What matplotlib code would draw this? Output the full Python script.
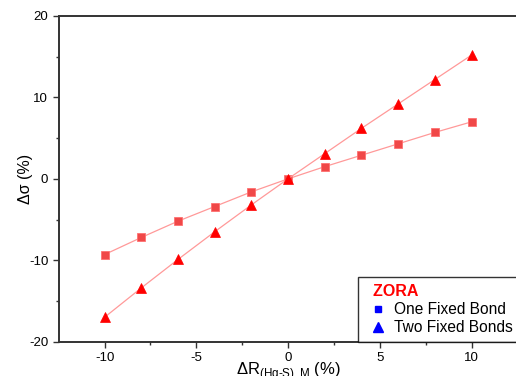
import matplotlib.pyplot as plt
from matplotlib.lines import Line2D

plt.rcParams['font.family'] = ['Liberation Sans', 'DejaVu Sans']
plt.rcParams['mathtext.fontset'] = 'custom'
plt.rcParams['mathtext.rm'] = 'Liberation Sans'

# ΔR (%)
dR = [-10, -8, -6, -4, -2, 0, 2, 4, 6, 8, 10]
# Δσ (%)
one_bond = [-9.3, -7.2, -5.2, -3.4, -1.6, 0.0, 1.5, 2.9, 4.3, 5.7, 7.0]
two_bonds = [-17.0, -13.4, -9.9, -6.5, -3.2, 0.0, 3.1, 6.2, 9.2, 12.2, 15.2]

fig = plt.figure(figsize=(5.16, 3.76), dpi=100)
ax = fig.add_axes([58.7/516, 34.3/376, 458.7/516, 325.7/376])

ax.plot(dR, one_bond, color='#ff9999', lw=0.9, marker='s', ms=5.5,
        mfc='#f04848', mec='#ff7070', mew=0.6, zorder=3)
ax.plot(dR, two_bonds, color='#ff9999', lw=0.9, marker='^', ms=7,
        mfc='red', mec='red', mew=0.5, zorder=3)

ax.set_xlim(-12.5, 12.5)
ax.set_ylim(-20, 20)
ax.set_xticks([-10, -5, 0, 5, 10])
ax.set_xticks([-7.5, -2.5, 2.5, 7.5], minor=True)
ax.set_yticks([-20, -10, 0, 10, 20])
ax.set_yticks([-15, -5, 5, 15], minor=True)
ax.tick_params(which='major', direction='out', length=4, width=1, labelsize=9.5, color='#333333')
ax.tick_params(which='minor', direction='out', length=2.5, width=1, color='#333333')
ax.set_xticklabels(['-10', '-5', '0', '5', '10'])
ax.set_yticklabels(['-20', '-10', '0', '10', '20'])

for s in ['left', 'bottom', 'top']:
    ax.spines[s].set_linewidth(1.4)
    ax.spines[s].set_color('#333333')
ax.spines['right'].set_visible(False)

ax.set_xlabel(r'ΔR$_{\mathrm{(Hg\text{-}S),M}}$ (%)', fontsize=12, labelpad=-3)
ax.set_ylabel('Δσ (%)', fontsize=11.5, labelpad=-3)

handles = [Line2D([], [], ls='none', marker='s', ms=5, color='blue'),
           Line2D([], [], ls='none', marker='^', ms=6.5, color='blue')]
leg = ax.legend(handles, ['One Fixed Bond', 'Two Fixed Bonds'], title='  ZORA',
                loc='lower left', bbox_to_anchor=(299.5/458.7, 0), borderaxespad=0,
                fontsize=11.2, title_fontsize=11.5, fancybox=False, frameon=True,
                handlelength=1.77, handletextpad=0.15, labelspacing=0.22,
                borderpad=0.4, alignment='left')
leg.get_frame().set_edgecolor('black')
leg.get_frame().set_linewidth(1.0)
leg.get_title().set_color('red')
leg.get_title().set_fontweight('bold')

fig.savefig('out.png', dpi=100)
